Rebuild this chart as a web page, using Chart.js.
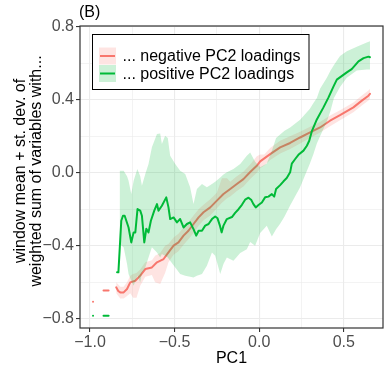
<!DOCTYPE html>
<html>
<head>
<meta charset="utf-8">
<script src="https://cdn.jsdelivr.net/npm/chart.js@4/dist/chart.umd.min.js"></script>
<style>
  html, body { margin: 0; padding: 0; background: #fff; }
  canvas { display: block; }
</style>
</head>
<body>
<canvas id="chart" width="390" height="374"></canvas>
<script>
// data
const seriesNames = ["... negative PC2 loadings", "... positive PC2 loadings"];

// red: negative PC2 loadings (null = gap in the line)
const redX = [-0.982, -0.978, -0.95, -0.92, -0.89, -0.865, -0.845, -0.833, -0.821, -0.801, -0.781, -0.762, -0.732, -0.703, -0.673, -0.634, -0.604, -0.565, -0.536, -0.506, -0.477, -0.447, -0.418, -0.388, -0.358, -0.329, -0.289, -0.25, -0.211, -0.171, -0.132, -0.093, -0.053, -0.014, 0.006, 0.065, 0.124, 0.183, 0.242, 0.301, 0.36, 0.419, 0.478, 0.557, 0.607, 0.646, 0.655];
const redY = [-0.707, -0.707, null, -0.645, -0.645, null, -0.628, -0.648, -0.656, -0.656, -0.637, -0.601, -0.592, -0.564, -0.528, -0.519, -0.491, -0.473, -0.437, -0.4, -0.382, -0.345, -0.318, -0.281, -0.245, -0.217, -0.19, -0.153, -0.117, -0.089, -0.062, -0.035, 0.004, 0.038, 0.062, 0.102, 0.139, 0.163, 0.193, 0.221, 0.248, 0.285, 0.315, 0.358, 0.395, 0.422, 0.432];

const redBandX = [-0.845, -0.821, -0.801, -0.781, -0.762, -0.745, -0.725, -0.703, -0.673, -0.634, -0.615, -0.585, -0.556, -0.536, -0.506, -0.477, -0.447, -0.418, -0.388, -0.358, -0.329, -0.289, -0.25, -0.22, -0.19, -0.171, -0.132, -0.093, -0.053, -0.014, 0.006, 0.03, 0.065, 0.124, 0.183, 0.242, 0.301, 0.36, 0.419, 0.478, 0.557, 0.607, 0.646, 0.655];
const redLo = [-0.66, -0.69, -0.69, -0.675, -0.66, -0.685, -0.685, -0.62, -0.57, -0.56, -0.6, -0.61, -0.55, -0.49, -0.45, -0.43, -0.395, -0.365, -0.33, -0.29, -0.26, -0.235, -0.195, -0.165, -0.14, -0.13, -0.1, -0.075, -0.035, 0.0, 0.025, 0.04, 0.07, 0.105, 0.13, 0.16, 0.19, 0.22, 0.255, 0.288, 0.332, 0.368, 0.396, 0.405];
const redHi = [-0.6, -0.625, -0.625, -0.6, -0.565, -0.555, -0.55, -0.53, -0.49, -0.48, -0.455, -0.44, -0.4, -0.39, -0.355, -0.335, -0.3, -0.27, -0.235, -0.2, -0.175, -0.145, -0.11, -0.03, -0.03, -0.05, -0.02, 0.005, 0.045, 0.09, 0.1, 0.1, 0.135, 0.175, 0.2, 0.225, 0.252, 0.278, 0.313, 0.342, 0.385, 0.423, 0.45, 0.46];

// green: positive PC2 loadings
const greenX = [-0.982, -0.978, -0.95, -0.92, -0.89, -0.86, -0.84, -0.832, -0.815, -0.805, -0.795, -0.772, -0.756, -0.742, -0.732, -0.719, -0.703, -0.693, -0.679, -0.667, -0.654, -0.64, -0.62, -0.604, -0.595, -0.575, -0.549, -0.536, -0.526, -0.506, -0.486, -0.467, -0.447, -0.427, -0.408, -0.388, -0.372, -0.358, -0.338, -0.319, -0.299, -0.279, -0.26, -0.246, -0.232, -0.222, -0.211, -0.191, -0.161, -0.142, -0.122, -0.102, -0.083, -0.063, -0.046, -0.034, -0.02, -0.004, 0.016, 0.035, 0.055, 0.075, 0.089, 0.1, 0.124, 0.144, 0.163, 0.183, 0.193, 0.213, 0.232, 0.262, 0.282, 0.296, 0.311, 0.341, 0.38, 0.41, 0.439, 0.459, 0.518, 0.547, 0.587, 0.617, 0.646, 0.655];
const greenY = [-0.784, -0.784, null, -0.784, -0.784, null, -0.546, -0.546, -0.263, -0.236, -0.236, -0.3, -0.382, -0.327, -0.327, -0.199, -0.208, -0.236, -0.382, -0.307, -0.327, -0.263, -0.208, -0.172, -0.208, -0.181, -0.135, -0.19, -0.254, -0.245, -0.272, -0.254, -0.3, -0.281, -0.272, -0.309, -0.345, -0.318, -0.318, -0.29, -0.281, -0.254, -0.24, -0.25, -0.29, -0.327, -0.29, -0.254, -0.243, -0.22, -0.2, -0.176, -0.148, -0.137, -0.15, -0.172, -0.19, -0.177, -0.163, -0.135, -0.131, -0.117, -0.131, -0.089, -0.068, -0.047, -0.029, 0.002, 0.05, 0.075, 0.098, 0.121, 0.148, 0.175, 0.226, 0.292, 0.358, 0.413, 0.472, 0.51, 0.55, 0.568, 0.61, 0.628, 0.636, 0.633];

const greenBandX = [-0.825, -0.801, -0.781, -0.772, -0.756, -0.742, -0.72, -0.703, -0.693, -0.673, -0.654, -0.634, -0.604, -0.585, -0.575, -0.556, -0.54, -0.526, -0.496, -0.467, -0.437, -0.408, -0.388, -0.368, -0.338, -0.309, -0.279, -0.26, -0.23, -0.211, -0.191, -0.152, -0.112, -0.073, -0.053, -0.024, 0.006, 0.045, 0.075, 0.1, 0.124, 0.15, 0.183, 0.242, 0.3, 0.32, 0.341, 0.36, 0.4, 0.422, 0.442, 0.478, 0.518, 0.577, 0.636, 0.655];
const greenLo = [-0.391, -0.409, -0.5, -0.555, -0.592, -0.619, -0.564, -0.601, -0.55, -0.519, -0.464, -0.409, -0.437, -0.464, -0.445, -0.455, -0.464, -0.482, -0.519, -0.555, -0.564, -0.57, -0.574, -0.565, -0.555, -0.51, -0.437, -0.455, -0.555, -0.5, -0.464, -0.482, -0.44, -0.42, -0.38, -0.4, -0.33, -0.29, -0.35, -0.31, -0.28, -0.24, -0.18, -0.08, 0.05, 0.1, 0.16, 0.2, 0.28, 0.34, 0.41, 0.47, 0.52, 0.56, 0.565, 0.565];
const greenHi = [0.011, 0.011, -0.02, -0.044, -0.117, -0.044, 0.02, -0.02, -0.071, -0.007, 0.048, 0.139, 0.212, 0.215, 0.157, 0.203, 0.19, 0.093, 0.048, 0.011, -0.007, -0.08, -0.172, -0.089, -0.062, -0.08, -0.062, -0.05, -0.026, -0.01, 0.002, 0.02, 0.048, 0.093, 0.111, 0.06, 0.03, 0.05, 0.12, 0.19, 0.21, 0.23, 0.248, 0.29, 0.35, 0.38, 0.41, 0.46, 0.52, 0.56, 0.59, 0.64, 0.665, 0.69, 0.714, 0.72];

const xTicks = [-1, -0.75, -0.5, -0.25, 0, 0.25, 0.5];
const xTickLabels = ["\u22121.0", "", "\u22120.5", "", "0.0", "", "0.5"];
const yTicks = [-0.8, -0.6, -0.4, -0.2, 0, 0.2, 0.4, 0.6, 0.8];
const yTickLabels = ["\u22120.8", "", "\u22120.4", "", "0.0", "", "0.4", "", "0.8"];

const RED = "#F8766D";
const GREEN = "#00BA38";
const RED_FILL = "rgba(248,118,109,0.2)";
const GREEN_FILL = "rgba(0,186,56,0.2)";
const FONT = "'Liberation Sans', Arial, sans-serif";

function pts(xs, ys) {
  return xs.map((x, i) => ({ x: x, y: ys[i] }));
}

const lineBase = { pointRadius: 0, tension: 0, spanGaps: false, borderCapStyle: "round", borderJoinStyle: "round" };

const datasets = [
  { ...lineBase, data: pts(greenX, greenY), borderColor: GREEN, borderWidth: 2, fill: false, order: 0 },
  { ...lineBase, data: pts(greenBandX, greenHi), borderWidth: 0, backgroundColor: GREEN_FILL, fill: 2, order: 1 },
  { ...lineBase, data: pts(greenBandX, greenLo), borderWidth: 0, fill: false, order: 2 },
  { ...lineBase, data: pts(redX, redY), borderColor: RED, borderWidth: 2, fill: false, order: 3 },
  { ...lineBase, data: pts(redBandX, redHi), borderWidth: 0, backgroundColor: RED_FILL, fill: 5, order: 4 },
  { ...lineBase, data: pts(redBandX, redLo), borderWidth: 0, fill: false, order: 5 }
];

// titles, panel border and the legend box
const decor = {
  id: "decor",
  afterDraw(chart) {
    const ctx = chart.ctx;
    const a = chart.chartArea;
    ctx.save();
    ctx.strokeStyle = "#333333";
    ctx.lineWidth = 1.2;
    ctx.strokeRect(a.left, a.top, a.right - a.left, a.bottom - a.top);

    ctx.fillStyle = "#000";
    ctx.font = "16px " + FONT;
    ctx.textAlign = "left";
    ctx.textBaseline = "middle";
    ctx.fillText("(B)", 79, 13);

    ctx.textAlign = "center";
    ctx.fillText("PC1", (a.left + a.right) / 2, 359);

    ctx.save();
    ctx.translate(21, 171);
    ctx.rotate(-Math.PI / 2);
    ctx.fillText("window mean + st. dev. of", 0, 0);
    ctx.fillText("weighted sum of variables with...", 0, 16);
    ctx.restore();

    // legend
    ctx.fillStyle = "#fff";
    ctx.fillRect(92.5, 34.5, 216.5, 55);
    ctx.strokeStyle = "#000";
    ctx.lineWidth = 1;
    ctx.strokeRect(92.5, 34.5, 216.5, 55);
    const rows = [
      { y: 56, fill: RED_FILL, line: RED },
      { y: 73.5, fill: GREEN_FILL, line: GREEN }
    ];
    rows.forEach((r, i) => {
      ctx.fillStyle = r.fill;
      ctx.fillRect(99, r.y - 8.5, 17, 17);
      ctx.strokeStyle = r.line;
      ctx.lineWidth = 2;
      ctx.beginPath();
      ctx.moveTo(100, r.y);
      ctx.lineTo(115, r.y);
      ctx.stroke();
      ctx.fillStyle = "#000";
      ctx.textAlign = "left";
      ctx.textBaseline = "middle";
      ctx.font = "16px " + FONT;
      ctx.fillText(seriesNames[i], 122.5, r.y + 1);
    });
    ctx.restore();
  }
};

const isMinor = (i) => i % 2 === 1;

new Chart(document.getElementById("chart"), {
  type: "line",
  data: { datasets },
  options: {
    responsive: false,
    devicePixelRatio: 1,
    animation: false,
    layout: { padding: { left: 0, top: 26, right: 7, bottom: 0 } },
    plugins: { legend: { display: false }, tooltip: { enabled: false } },
    scales: {
      x: {
        type: "linear",
        min: -1.059,
        max: 0.732,
        afterBuildTicks: (s) => { s.ticks = xTicks.map(v => ({ value: v })); },
        afterFit: (s) => { s.height = 46; },
        ticks: {
          autoSkip: false,
          maxRotation: 0,
          padding: 1,
          color: "#4D4D4D",
          font: { family: FONT, size: 16 },
          callback: (v, i) => xTickLabels[i]
        },
        grid: {
          color: "#EBEBEB",
          lineWidth: (c) => isMinor(c.index) ? 0.6 : 1.1,
          tickLength: 4,
          tickColor: (c) => isMinor(c.index) ? "rgba(0,0,0,0)" : "#333333"
        },
        border: { display: false }
      },
      y: {
        type: "linear",
        min: -0.851,
        max: 0.804,
        afterBuildTicks: (s) => { s.ticks = yTicks.map(v => ({ value: v })); },
        afterFit: (s) => { s.width = 80; },
        ticks: {
          autoSkip: false,
          padding: 2,
          color: "#4D4D4D",
          font: { family: FONT, size: 16 },
          callback: (v, i) => yTickLabels[i]
        },
        grid: {
          color: "#EBEBEB",
          lineWidth: (c) => isMinor(c.index) ? 0.6 : 1.1,
          tickLength: 4,
          tickColor: (c) => isMinor(c.index) ? "rgba(0,0,0,0)" : "#333333"
        },
        border: { display: false }
      }
    }
  },
  plugins: [decor]
});
</script>
</body>
</html>
